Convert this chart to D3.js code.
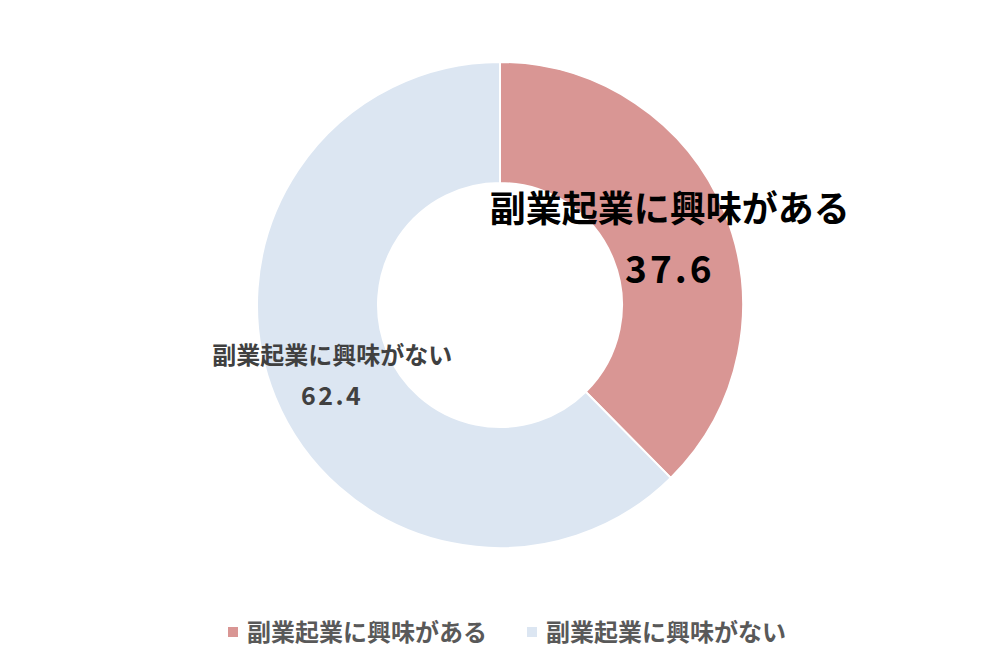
<!DOCTYPE html>
<html>
<head>
<meta charset="utf-8">
<script src="https://cdn.jsdelivr.net/npm/d3@7"></script>
<style>
  body { margin: 0; background: #fff; }
  text { font-family: "Noto Sans CJK JP", "Noto Sans", sans-serif; font-weight: bold; }
</style>
</head>
<body>
<svg id="chart" width="1000" height="667"></svg>
<script>
const categories = ["副業起業に興味がある", "副業起業に興味がない"];
const values = [37.6, 62.4];
const colors = ["#d99694", "#dce6f2"];

const svg = d3.select("#chart");
const cx = 500, cy = 305;
const outerR = 243, innerR = 122;

const pie = d3.pie().sort(null).value(d => d);
const arcs = pie(values);
const arc = d3.arc().innerRadius(innerR).outerRadius(outerR);

const g = svg.append("g").attr("transform", `translate(${cx}, ${cy})`);
g.selectAll("path.slice")
  .data(arcs)
  .enter()
  .append("path")
  .attr("class", "slice")
  .attr("d", arc)
  .attr("fill", (d, i) => colors[i])
  .attr("stroke", "#fff")
  .attr("stroke-width", 2);

// data labels (offsets relative to each slice's centroid)
const labelStyle = [
  { dx: 1, dy: -14, size: 36, color: "#000", gap: 61, numSize: 37, ls: 3 },
  { dx: 1, dy: -10, size: 24, color: "#404040", gap: 41, numSize: 25, ls: 2.5 }
];
arcs.forEach((d, i) => {
  const c = arc.centroid(d);
  const s = labelStyle[i];
  const x = c[0] + s.dx, y = c[1] + s.dy;
  g.append("text")
    .attr("x", x).attr("y", y)
    .attr("text-anchor", "middle")
    .attr("font-size", s.size)
    .attr("fill", s.color)
    .text(categories[i]);
  g.append("text")
    .attr("x", x).attr("y", y + s.gap)
    .attr("text-anchor", "middle")
    .attr("font-size", s.numSize)
    .attr("letter-spacing", s.ls)
    .attr("fill", s.color)
    .text(d3.format(".1f")(values[i]));
});

// legend
const legendX = d3.scalePoint().domain(categories).range([228, 527]);
const lg = svg.append("g").attr("class", "legend");
const items = lg.selectAll("g")
  .data(categories)
  .enter()
  .append("g")
  .attr("transform", d => `translate(${legendX(d)}, 632)`);
items.append("rect")
  .attr("x", 0).attr("y", -5)
  .attr("width", 10).attr("height", 10)
  .attr("fill", (d, i) => colors[i]);
items.append("text")
  .attr("x", 19).attr("y", 9)
  .attr("font-size", 24)
  .attr("fill", "#595959")
  .text(d => d);
</script>
</body>
</html>
